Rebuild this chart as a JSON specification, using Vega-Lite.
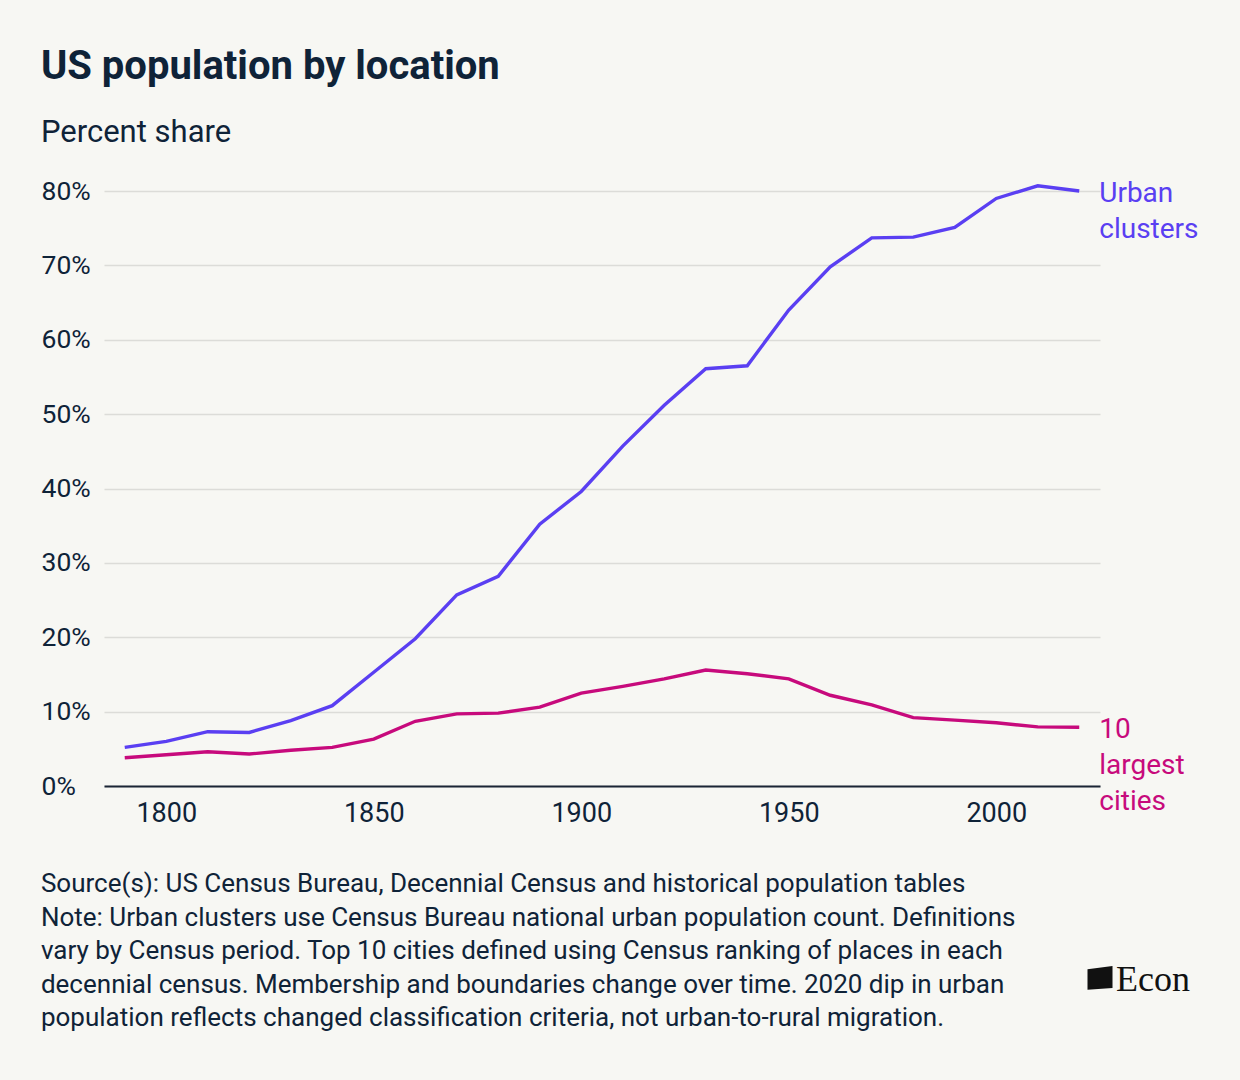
{
  "$schema": "https://vega.github.io/schema/vega-lite/v6.json",
  "width": 996,
  "height": 595,
  "autosize": {"type": "none"},
  "padding": {"left": 104, "top": 191, "right": 140, "bottom": 294},
  "background": "#f7f7f3",
  "config": {"view": {"stroke": null}, "font": "Roboto"},
  "title": {
    "text": "US population by location",
    "subtitle": "Percent share",
    "anchor": "start",
    "frame": "bounds",
    "font": "Roboto",
    "fontSize": 40,
    "fontWeight": "bold",
    "color": "#0f2338",
    "subtitleFont": "Roboto",
    "subtitleFontSize": 31,
    "subtitleColor": "#0f2338",
    "subtitlePadding": 31,
    "offset": 30
  },
  "datasets": {
    "pop": [
      {"year": 1790, "series": "Urban clusters", "value": 5.2},
      {"year": 1800, "series": "Urban clusters", "value": 6.0},
      {"year": 1810, "series": "Urban clusters", "value": 7.3},
      {"year": 1820, "series": "Urban clusters", "value": 7.2},
      {"year": 1830, "series": "Urban clusters", "value": 8.8},
      {"year": 1840, "series": "Urban clusters", "value": 10.8},
      {"year": 1850, "series": "Urban clusters", "value": 15.3},
      {"year": 1860, "series": "Urban clusters", "value": 19.8},
      {"year": 1870, "series": "Urban clusters", "value": 25.7},
      {"year": 1880, "series": "Urban clusters", "value": 28.2},
      {"year": 1890, "series": "Urban clusters", "value": 35.2},
      {"year": 1900, "series": "Urban clusters", "value": 39.6},
      {"year": 1910, "series": "Urban clusters", "value": 45.7},
      {"year": 1920, "series": "Urban clusters", "value": 51.2},
      {"year": 1930, "series": "Urban clusters", "value": 56.1},
      {"year": 1940, "series": "Urban clusters", "value": 56.5},
      {"year": 1950, "series": "Urban clusters", "value": 64.0},
      {"year": 1960, "series": "Urban clusters", "value": 69.8},
      {"year": 1970, "series": "Urban clusters", "value": 73.7},
      {"year": 1980, "series": "Urban clusters", "value": 73.8},
      {"year": 1990, "series": "Urban clusters", "value": 75.1},
      {"year": 2000, "series": "Urban clusters", "value": 79.0},
      {"year": 2010, "series": "Urban clusters", "value": 80.7},
      {"year": 2020, "series": "Urban clusters", "value": 80.0},
      {"year": 1790, "series": "10 largest cities", "value": 3.8},
      {"year": 1800, "series": "10 largest cities", "value": 4.2},
      {"year": 1810, "series": "10 largest cities", "value": 4.6},
      {"year": 1820, "series": "10 largest cities", "value": 4.3},
      {"year": 1830, "series": "10 largest cities", "value": 4.8},
      {"year": 1840, "series": "10 largest cities", "value": 5.2},
      {"year": 1850, "series": "10 largest cities", "value": 6.3},
      {"year": 1860, "series": "10 largest cities", "value": 8.7},
      {"year": 1870, "series": "10 largest cities", "value": 9.7},
      {"year": 1880, "series": "10 largest cities", "value": 9.8},
      {"year": 1890, "series": "10 largest cities", "value": 10.6},
      {"year": 1900, "series": "10 largest cities", "value": 12.5},
      {"year": 1910, "series": "10 largest cities", "value": 13.4},
      {"year": 1920, "series": "10 largest cities", "value": 14.4},
      {"year": 1930, "series": "10 largest cities", "value": 15.6},
      {"year": 1940, "series": "10 largest cities", "value": 15.1},
      {"year": 1950, "series": "10 largest cities", "value": 14.4},
      {"year": 1960, "series": "10 largest cities", "value": 12.2},
      {"year": 1970, "series": "10 largest cities", "value": 10.9},
      {"year": 1980, "series": "10 largest cities", "value": 9.2},
      {"year": 1990, "series": "10 largest cities", "value": 8.85},
      {"year": 2000, "series": "10 largest cities", "value": 8.5},
      {"year": 2010, "series": "10 largest cities", "value": 7.95},
      {"year": 2020, "series": "10 largest cities", "value": 7.9}
    ]
  },
  "layer": [
    {
      "data": {"name": "pop"},
      "encoding": {
        "x": {
          "field": "year",
          "type": "quantitative",
          "scale": {"domain": [1785, 2025], "nice": false, "zero": false},
          "axis": {
            "values": [1800, 1850, 1900, 1950, 2000],
            "format": "d",
            "title": null,
            "grid": false,
            "ticks": false,
            "domainColor": "#1b2535",
            "domainWidth": 2,
            "labelFont": "Roboto",
            "labelFontSize": 27,
            "labelColor": "#0f2338",
            "labelPadding": 14
          }
        },
        "y": {
          "field": "value",
          "type": "quantitative",
          "scale": {"domain": [0, 80], "nice": false},
          "axis": {
            "values": [0, 10, 20, 30, 40, 50, 60, 70, 80],
            "labelExpr": "datum.value + '%'",
            "title": null,
            "domain": false,
            "ticks": false,
            "grid": true,
            "gridColor": "#dcdcd8",
            "gridWidth": 1.5,
            "labelAlign": "left",
            "labelPadding": 63,
            "labelFont": "Roboto",
            "labelFontSize": 26.5,
            "labelColor": "#0f2338"
          }
        }
      },
      "layer": [
        {
          "mark": {"type": "line", "strokeWidth": 3.4, "clip": false},
          "encoding": {
            "color": {
              "field": "series",
              "type": "nominal",
              "scale": {"domain": ["Urban clusters", "10 largest cities"], "range": ["#5a3ff2", "#c70a7c"]},
              "legend": null
            }
          }
        },
        {
          "transform": [{"filter": "datum.year == 2020 && datum.series == 'Urban clusters'"}],
          "mark": {"type": "text", "align": "left", "baseline": "alphabetic", "dx": 20, "dy": 11, "fontSize": 28, "lineHeight": 36, "color": "#5a3ff2", "font": "Roboto"},
          "encoding": {"text": {"value": ["Urban", "clusters"]}}
        },
        {
          "transform": [{"filter": "datum.year == 2020 && datum.series == '10 largest cities'"}],
          "mark": {"type": "text", "align": "left", "baseline": "alphabetic", "dx": 20, "dy": 11, "fontSize": 28, "lineHeight": 36, "color": "#c70a7c", "font": "Roboto"},
          "encoding": {"text": {"value": ["10", "largest", "cities"]}}
        }
      ]
    },
    {
      "data": {"values": [{"note": "footnote"}]},
      "mark": {"type": "text", "align": "left", "baseline": "alphabetic", "fontSize": 26, "lineHeight": 33.6, "color": "#0f2338", "font": "Roboto"},
      "encoding": {
        "x": {"datum": 1769.8, "type": "quantitative"},
        "y": {"datum": -14.25, "type": "quantitative"},
        "text": {"value": [
          "Source(s): US Census Bureau, Decennial Census and historical population tables",
          "Note: Urban clusters use Census Bureau national urban population count. Definitions",
          "vary by Census period. Top 10 cities defined using Census ranking of places in each",
          "decennial census. Membership and boundaries change over time. 2020 dip in urban",
          "population reflects changed classification criteria, not urban-to-rural migration."
        ]}
      }
    },
    {
      "data": {"values": [{"logo": "Econ"}]},
      "mark": {"type": "text", "align": "right", "baseline": "middle", "fontSize": 36, "font": "Liberation Serif", "color": "#111111"},
      "encoding": {
        "x": {"datum": 2046.7, "type": "quantitative"},
        "y": {"datum": -26.1, "type": "quantitative"},
        "text": {"field": "logo"}
      }
    },
    {
      "data": {"values": [{"logo": "flag"}]},
      "mark": {"type": "point", "filled": true, "color": "#111111", "opacity": 1, "size": 625, "shape": "M-1,-0.7 L1,-0.95 L1,0.8 L-1,0.95 Z"},
      "encoding": {
        "x": {"datum": 2025.0, "type": "quantitative"},
        "y": {"datum": -25.8, "type": "quantitative"}
      }
    }
  ]
}
